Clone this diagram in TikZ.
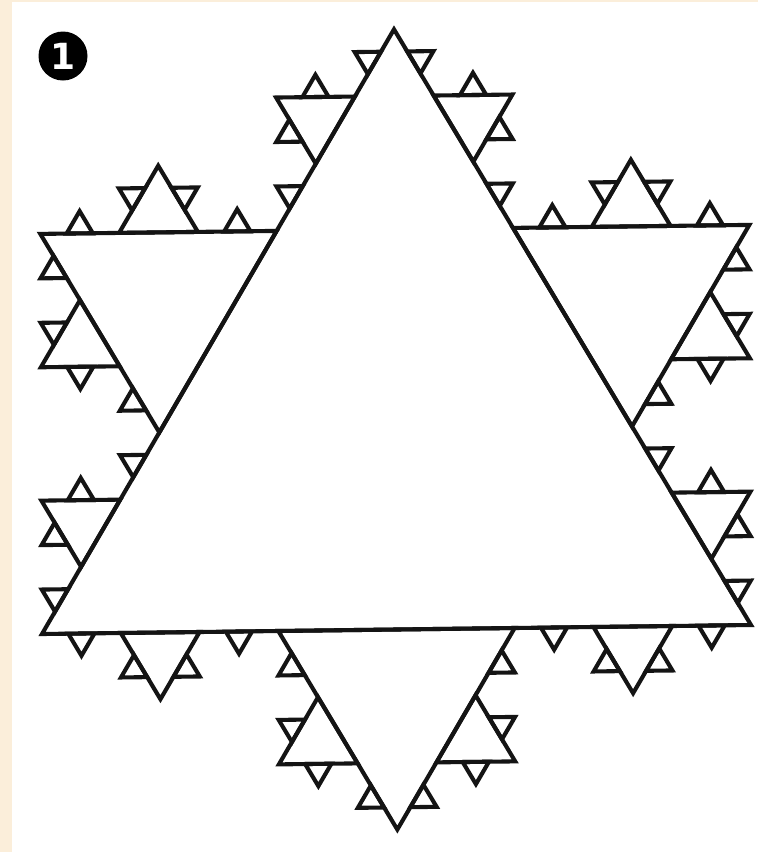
\documentclass[tikz,border=0pt]{standalone}
\usepackage{fontspec}
\setmainfont{DejaVu Sans}
\definecolor{paper}{HTML}{FBEEDA}
\tikzset{kline/.style={draw=black!92,line width=4.1pt,line join=miter},
  badge/.style={circle,fill=black,text=white,inner sep=0pt,minimum size=49pt,font=\bfseries\fontsize{36}{36}\selectfont}}
\newcommand\kseg[5]{%
  \ifnum#5>0\relax
  \begingroup
   \pgfmathsetmacro\kDx{(#3-#1)/3}%
   \pgfmathsetmacro\kDy{(#4-#2)/3}%
   \pgfmathsetmacro\kAx{#1+\kDx}\pgfmathsetmacro\kAy{#2+\kDy}%
   \pgfmathsetmacro\kBx{#1+2*\kDx}\pgfmathsetmacro\kBy{#2+2*\kDy}%
   \pgfmathsetmacro\kCx{\kAx+0.5*\kDx+0.8660254*\kDy}%
   \pgfmathsetmacro\kCy{\kAy-0.8660254*\kDx+0.5*\kDy}%
   \draw[kline] (\kAx,\kAy) -- (\kCx,\kCy) -- (\kBx,\kBy) -- cycle;
   \pgfmathtruncatemacro\kLv{#5-1}%
   \edef\kNext{\noexpand\kseg{#1}{#2}{\kAx}{\kAy}{\kLv}\noexpand\kseg{\kAx}{\kAy}{\kCx}{\kCy}{\kLv}\noexpand\kseg{\kCx}{\kCy}{\kBx}{\kBy}{\kLv}\noexpand\kseg{\kBx}{\kBy}{#3}{#4}{\kLv}}%
   \kNext
  \endgroup
  \fi}
\begin{document}
\begin{tikzpicture}[x=1pt,y=1pt]
\fill[white] (0,0) rectangle (758,-852);
\fill[paper] (0,0) rectangle (12,-852);
\fill[paper] (0,0) rectangle (758,-2);
\useasboundingbox (0,0) rectangle (758,-852);
\begin{scope}[cm={7.09,0.09,-0.029,6.93,(42pt,-634pt)}]
  \draw[kline] (0,0) -- (100,0) -- (50,86.60254) -- cycle;
  \kseg{0}{0}{100}{0}{3}
  \kseg{100}{0}{50}{86.60254}{3}
  \kseg{50}{86.60254}{0}{0}{3}
\end{scope}
\node[badge] (one) at (63,-56) {1};
\end{tikzpicture}
\end{document}
